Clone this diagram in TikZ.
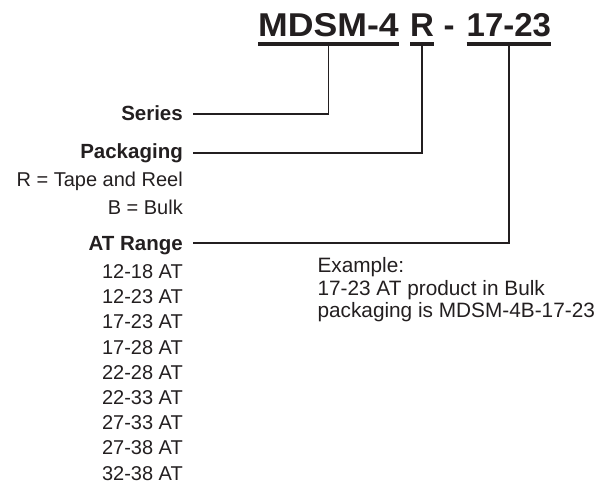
\documentclass[tikz,border=0pt]{standalone}
\usepackage{fontspec}
\setmainfont{Liberation Sans}
\definecolor{inkc}{HTML}{231F20}
\begin{document}
\begin{tikzpicture}[x=1pt,y=-1pt,
  ttl/.style={font=\fontsize{33}{33}\selectfont\bfseries, text=inkc, inner sep=0pt},
  lbl/.style={font=\fontsize{20.5}{24}\selectfont\bfseries, text=inkc, inner sep=0pt},
  txt/.style={font=\fontsize{20}{25.2}\selectfont, text=inkc, inner sep=0pt, align=right},
  txtb/.style={font=\fontsize{20}{28}\selectfont, text=inkc, inner sep=0pt, align=right},
  ex/.style={font=\fontsize{20.8}{22.3}\selectfont, text=inkc, inner sep=0pt, align=left},
  uline/.style={draw=inkc, line width=3.8pt},
  conn/.style={draw=inkc, line width=1.8pt}]
\useasboundingbox (0,0) rectangle (601,484);
% title pieces
\node[ttl, anchor=base west, xscale=1.08] (m) at (258,36.7) {MDSM-4};
\node[ttl, anchor=base west] (r) at (410,36.7) {R};
\node[ttl, anchor=base west] (d) at (443.5,36.7) {-};
\node[ttl, anchor=base west] (n) at (466.5,36.7) {17-23};
% underlines
\draw[uline] ([yshift=-7pt]m.base west) -- ([yshift=-7pt]m.base east) coordinate[pos=.5] (mu);
\draw[uline] ([yshift=-7pt]r.base west) -- ([yshift=-7pt]r.base east) coordinate[pos=.5] (ru);
\draw[uline] ([yshift=-7pt]n.base west) -- ([yshift=-7pt]n.base east) coordinate[pos=.5] (nu);
% labels
\node[lbl, anchor=base east] (ser) at (183,120) {Series};
\node[lbl, anchor=base east] (pkg) at (183,158.3) {Packaging};
\node[txtb, anchor=base east] (pko) at (183,214) {R = Tape and Reel\\B = Bulk};
\node[lbl, anchor=base east] (atr) at (183,250.5) {AT Range};
\node[txt, anchor=base east] (rng) at (183,480) {12-18 AT\\12-23 AT\\17-23 AT\\17-28 AT\\22-28 AT\\22-33 AT\\27-33 AT\\27-38 AT\\32-38 AT};
\node[ex, anchor=base west] (exm) at (317.3,317.3) {Example:\\17-23 AT product in Bulk\\packaging is MDSM-4B-17-23};
% connectors
\draw[conn] (mu) |- ([xshift=10pt,yshift=6pt]ser.base east);
\draw[conn] (ru) |- ([xshift=10pt,yshift=5pt]pkg.base east);
\draw[conn] (nu) |- ([xshift=10pt,yshift=7.8pt]atr.base east);
\end{tikzpicture}
\end{document}
